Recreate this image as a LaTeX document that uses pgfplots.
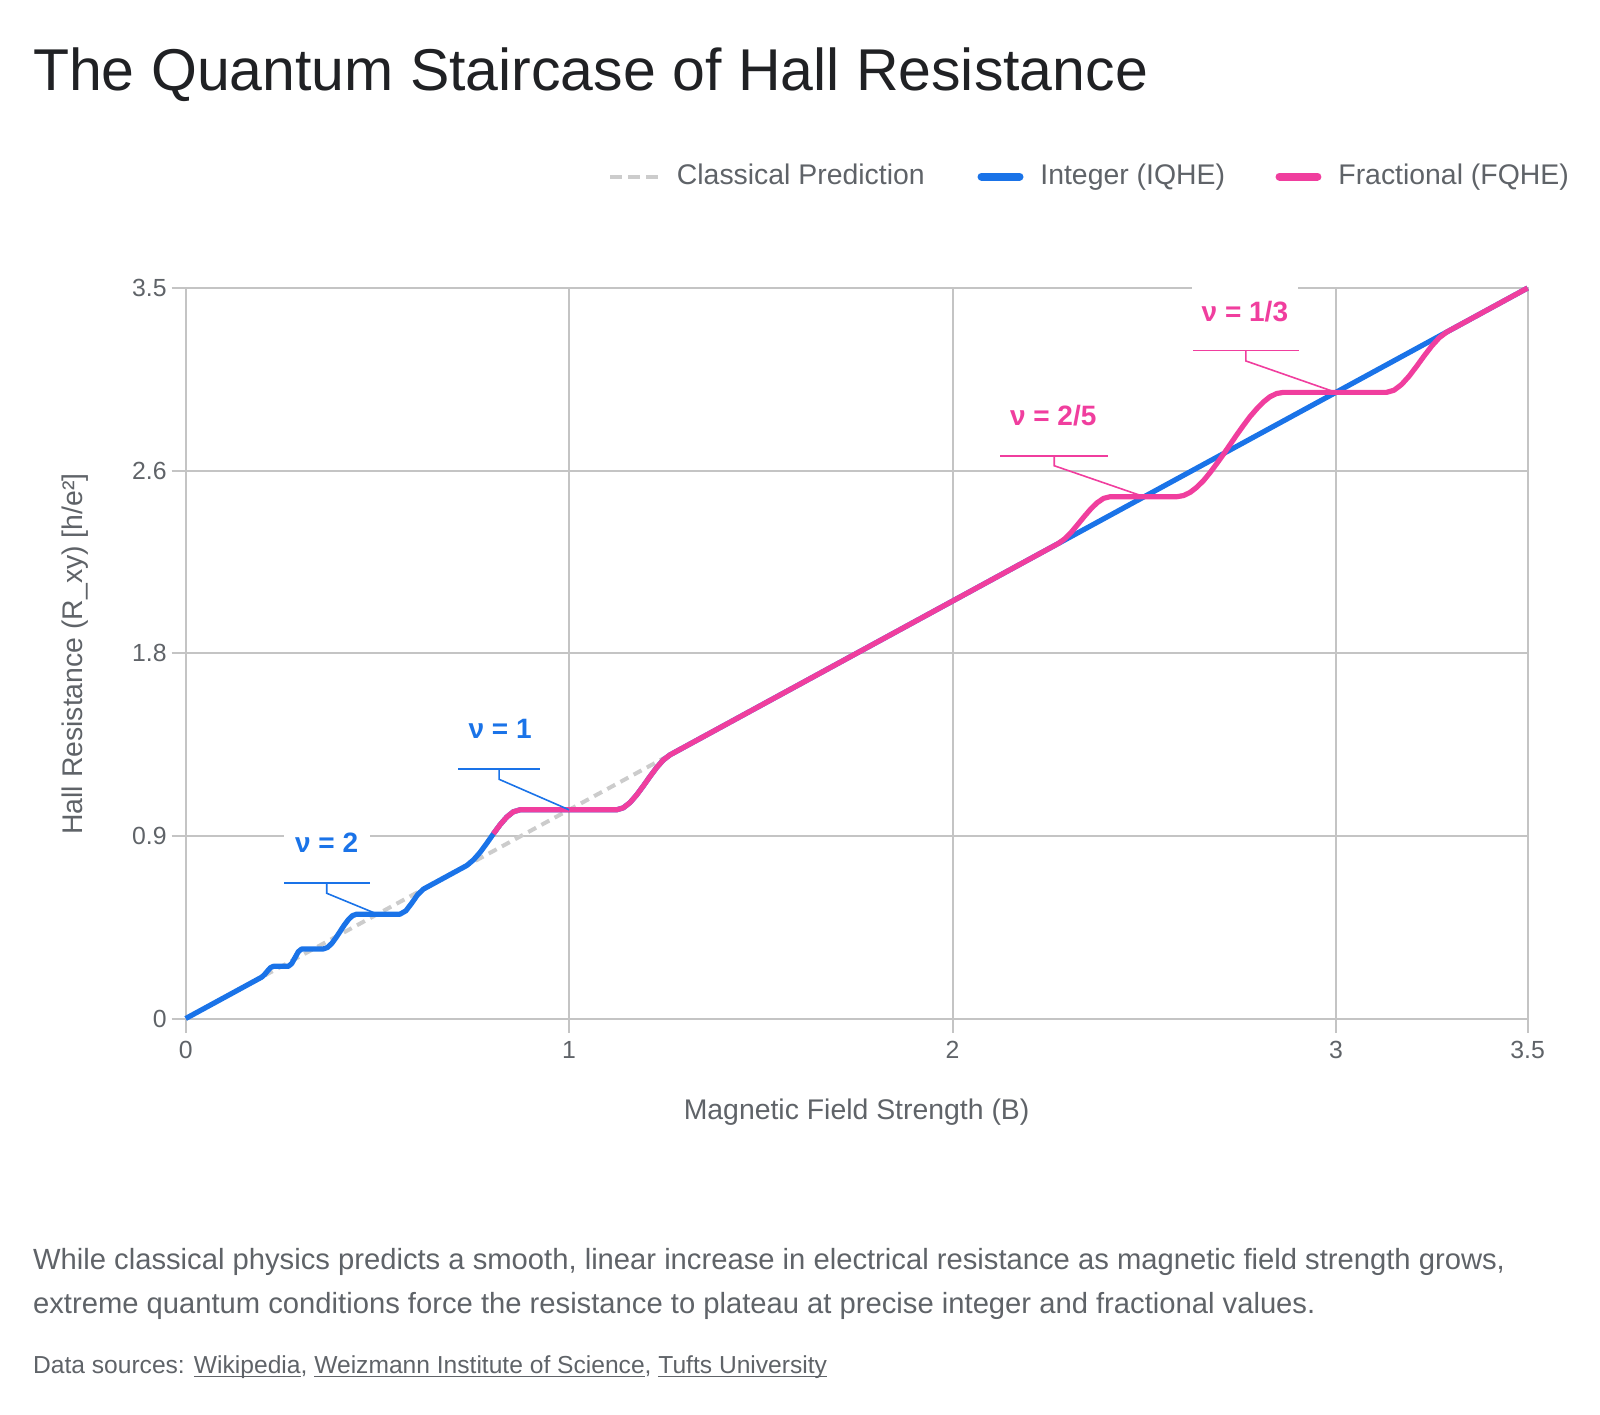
\documentclass[border=0pt]{standalone}
\usepackage{fontspec}
\setmainfont{Liberation Sans}
\usepackage{pgfplots}
\pgfplotsset{compat=1.18}
\usetikzlibrary{calc}
\definecolor{iqhe}{HTML}{1A73E8}
\definecolor{fqhe}{HTML}{F03E9E}
\definecolor{classic}{HTML}{CCCCCC}
\definecolor{gridc}{HTML}{C4C4C4}
\definecolor{txt}{HTML}{5F6368}
\definecolor{ttl}{HTML}{202124}
\newcommand\ul[1]{\underline{\smash{#1}}}
\begin{document}
\begin{tikzpicture}
\path[use as bounding box] (0,0) rectangle (800pt,-707pt);
\node[anchor=base west, inner sep=0, text=ttl, font=\fontsize{29.5}{35}\selectfont] at (16.35pt,-45pt) {The Quantum Staircase of Hall Resistance};
% legend
\draw[classic, line width=2pt, dash pattern=on 6pt off 3pt] (305pt,-88.25pt) -- (329pt,-88.25pt);
\node[anchor=base west, inner sep=0, text=txt, font=\fontsize{14.2}{17}\selectfont] at (338.25pt,-92pt) {Classical Prediction};
\draw[iqhe, line width=4pt, line cap=round] (490.75pt,-88.25pt) -- (509.75pt,-88.25pt);
\node[anchor=base west, inner sep=0, text=txt, font=\fontsize{14.2}{17}\selectfont] at (520pt,-92pt) {Integer (IQHE)};
\draw[fqhe, line width=4pt, line cap=round] (639.75pt,-88.25pt) -- (658.7pt,-88.25pt);
\node[anchor=base west, inner sep=0, text=txt, font=\fontsize{14.2}{17}\selectfont] at (669pt,-92pt) {Fractional (FQHE)};
% axis labels
\node[rotate=90, inner sep=0, text=txt, font=\fontsize{14.2}{17}\selectfont] at (37.5pt,-327pt) {Hall Resistance (R\_xy) [h/e²]};
\node[inner sep=0, text=txt, font=\fontsize{14.2}{17}\selectfont] at (428.3pt,-556pt) {Magnetic Field Strength (B)};
% body
\node[anchor=base west, inner sep=0, text=txt, font=\fontsize{14.6}{17}\selectfont] at (16.35pt,-634.5pt) {While classical physics predicts a smooth, linear increase in electrical resistance as magnetic field strength grows,};
\node[anchor=base west, inner sep=0, text=txt, font=\fontsize{14.6}{17}\selectfont] at (16.35pt,-656.7pt) {extreme quantum conditions force the resistance to plateau at precise integer and fractional values.};
\node[anchor=base west, inner sep=0, text=txt, font=\fontsize{12.3}{14}\selectfont] at (16.35pt,-686.75pt) {Data sources: \ul{Wikipedia}, \ul{Weizmann Institute of Science}, \ul{Tufts University}};
\begin{axis}[
  at={(92.85pt,-509.25pt)}, anchor=south west,
  scale only axis, width=670.95pt, height=365.25pt,
  xmin=0, xmax=3.5, ymin=0, ymax=3.5,
  xtick={0,1,2,3,3.5}, xticklabels={0,1,2,3,3.5},
  ytick={0,0.875,1.75,2.625,3.5}, yticklabels={0,0.9,1.8,2.6,3.5},
  /pgf/number format/assume math mode=true,
  grid=major, major grid style={gridc, line width=1pt},
  axis line style={gridc, line width=1pt},
  tick style={gridc, line width=1pt}, tick align=outside, major tick length=7pt,
  tick pos=left,
  tick label style={font=\fontsize{12.4}{15}\selectfont, text=txt},
  yticklabel style={xshift=1pt},
  xticklabel style={yshift=-0.8pt},
  clip=false,
]
\addplot[classic, line width=2pt, dash pattern=on 4.5pt off 3pt] coordinates {(0,0) (3.5,3.5)};
\addplot[iqhe, line width=2.6pt, line join=round] coordinates {
(0,0) (0.198,0.198) (0.2056,0.2104) (0.2133,0.2278) (0.2209,0.2433) (0.2285,0.25)
(0.2677,0.25) (0.2764,0.2630) (0.2851,0.2917) (0.2938,0.3203) (0.3025,0.3333)
(0.359,0.3333) (0.3699,0.3405) (0.3808,0.3594) (0.3916,0.3861) (0.4025,0.4167)
(0.4134,0.4473) (0.4243,0.4740) (0.4351,0.4929) (0.446,0.5)
(0.559,0.5) (0.5742,0.5159) (0.5894,0.5523) (0.6046,0.5925) (0.6198,0.6198)
(0.733,0.733) (0.7504,0.7597) (0.7678,0.7959) (0.7851,0.8392) (0.8025,0.8849)
(0.8199,0.9284) (0.8373,0.9651) (0.8546,0.9905) (0.872,1.0)
(1.124,1.0) (1.1414,1.0094) (1.1588,1.0346) (1.1761,1.0710) (1.1935,1.1141)
(1.2109,1.1594) (1.2283,1.2024) (1.2456,1.2384) (1.263,1.263) (3.5,3.5)};
\addplot[fqhe, line width=2.6pt, line join=round] coordinates {
(0.8025,0.8849) (0.8199,0.9284) (0.8373,0.9651) (0.8546,0.9905) (0.872,1.0)
(1.124,1.0) (1.1414,1.0094) (1.1588,1.0346) (1.1761,1.0710) (1.1935,1.1141)
(1.2109,1.1594) (1.2283,1.2024) (1.2456,1.2384) (1.263,1.263)
(2.276,2.276) (2.2929,2.2986) (2.3098,2.3300) (2.3266,2.3667) (2.3435,2.4049)
(2.3604,2.4410) (2.3773,2.4713) (2.3941,2.4922) (2.411,2.5)
(2.585,2.5) (2.6025,2.5055) (2.620,2.521) (2.6375,2.546) (2.655,2.578)
(2.672,2.616) (2.689,2.658) (2.7065,2.703) (2.724,2.75)
(2.7415,2.797) (2.759,2.842) (2.776,2.884) (2.794,2.922) (2.811,2.954)
(2.828,2.979) (2.8455,2.9945) (2.863,3.0)
(3.132,3.0) (3.1516,3.0103) (3.1713,3.0378) (3.1909,3.0776) (3.2105,3.1249)
(3.2301,3.1746) (3.2498,3.2218) (3.2694,3.2616) (3.289,3.289) (3.5,3.5)};
% annotations
\coordinate (A) at (axis cs:0.5,0.5);
\coordinate (B) at (axis cs:1,1);
\coordinate (C) at (axis cs:2.5,2.5);
\coordinate (D) at (axis cs:3,3);
\draw[iqhe, line width=0.8pt] (A) -- ($(A)+(-25.35pt,10.45pt)$) -- ($(A)+(-25.35pt,15.45pt)$);
\draw[iqhe, line width=0.8pt] ($(A)+(-46.5pt,15.45pt)$) -- ($(A)+(-3.7pt,15.45pt)$);
\node[fill=white, inner sep=0, minimum width=42.8pt, minimum height=28pt, text=iqhe, font=\bfseries\fontsize{14}{16}\selectfont] at ($(A)+(-25.35pt,35.75pt)$) {ν = 2};
\draw[iqhe, line width=0.8pt] (B) -- ($(B)+(-35pt,15.25pt)$) -- ($(B)+(-35pt,20.4pt)$);
\draw[iqhe, line width=0.8pt] ($(B)+(-55.4pt,20.4pt)$) -- ($(B)+(-14.5pt,20.4pt)$);
\node[fill=white, inner sep=0, minimum width=40.9pt, minimum height=28pt, text=iqhe, font=\bfseries\fontsize{14}{16}\selectfont] at ($(B)+(-34.5pt,40.25pt)$) {ν = 1};
\draw[fqhe, line width=0.8pt] (C) -- ($(C)+(-45pt,15.5pt)$) -- ($(C)+(-45pt,20.5pt)$);
\draw[fqhe, line width=0.8pt] ($(C)+(-72pt,20.5pt)$) -- ($(C)+(-18pt,20.5pt)$);
\node[fill=white, inner sep=0, minimum width=54pt, minimum height=28pt, text=fqhe, font=\bfseries\fontsize{14}{16}\selectfont] at ($(C)+(-45.5pt,40.4pt)$) {ν = 2/5};
\draw[fqhe, line width=0.8pt] (D) -- ($(D)+(-45pt,15.7pt)$) -- ($(D)+(-45pt,20.85pt)$);
\draw[fqhe, line width=0.8pt] ($(D)+(-71.3pt,20.85pt)$) -- ($(D)+(-18.5pt,20.85pt)$);
\node[fill=white, inner sep=0, minimum width=52.8pt, minimum height=28pt, text=fqhe, font=\bfseries\fontsize{14}{16}\selectfont] at ($(D)+(-45.5pt,40.35pt)$) {ν = 1/3};
\end{axis}
\end{tikzpicture}
\end{document}
